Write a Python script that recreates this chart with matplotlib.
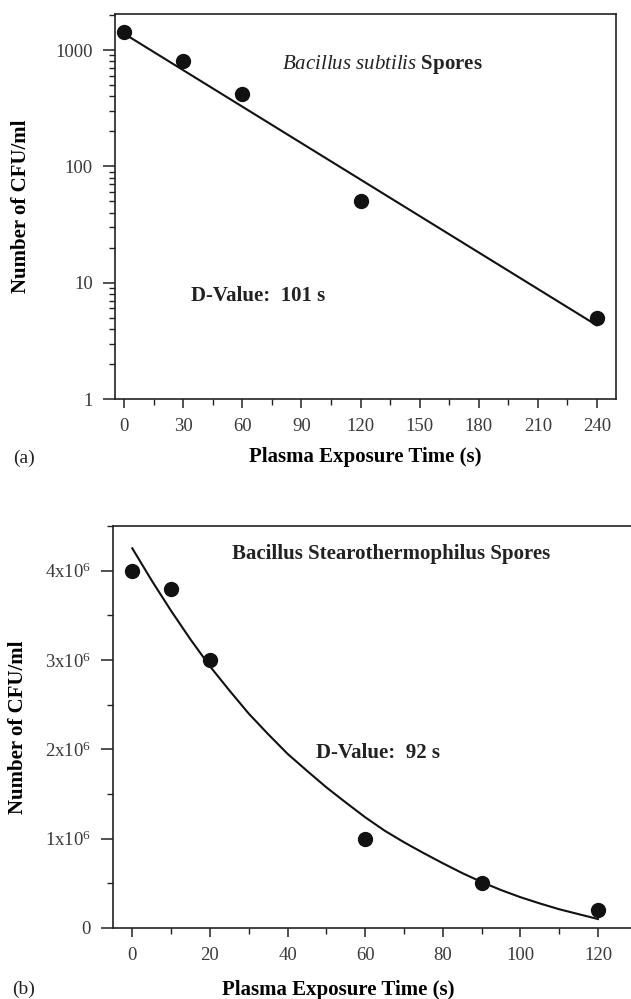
import numpy as np
import matplotlib
matplotlib.use('Agg')
import matplotlib.pyplot as plt
from matplotlib.ticker import LogLocator, NullFormatter, MultipleLocator

plt.rcParams['font.family'] = ['Liberation Serif', 'DejaVu Serif']
plt.rcParams['mathtext.fontset'] = 'custom'
plt.rcParams['mathtext.rm'] = 'Liberation Serif'
plt.rcParams['mathtext.it'] = 'Liberation Serif:italic'
plt.rcParams['mathtext.bf'] = 'Liberation Serif:bold'

# (a) Bacillus subtilis spores, log scale
time_a = [0, 30, 60, 120, 240]
cfu_a = [1420, 800, 420, 50, 5.0]
fit_time_a = [0, 240]
fit_cfu_a = [1380, 4.3]
xticks_a = [0, 30, 60, 90, 120, 150, 180, 210, 240]
yticks_a = [1, 10, 100, 1000]
yticklabels_a = ['1', '10', '100', '1000']

# (b) Bacillus stearothermophilus spores, linear scale
time_b = [0, 10, 20, 60, 90, 120]
cfu_b = [4.0e6, 3.8e6, 3.0e6, 1.0e6, 0.5e6, 0.2e6]
# fitted curve
fit_time_b = [0, 5, 10, 15, 20, 25, 30, 35, 40, 45, 50, 55, 60,
              65, 70, 75, 80, 85, 90, 95, 100, 105, 110, 115, 120]
fit_cfu_b = [4.25e6, 3.89e6, 3.55e6, 3.23e6, 2.93e6, 2.66e6, 2.40e6,
             2.17e6, 1.95e6, 1.76e6, 1.575e6, 1.405e6, 1.24e6, 1.09e6,
             0.96e6, 0.84e6, 0.725e6, 0.615e6, 0.515e6, 0.425e6, 0.345e6,
             0.275e6, 0.21e6, 0.155e6, 0.10e6]
xticks_b = [0, 20, 40, 60, 80, 100, 120]
yticks_b = [0, 1e6, 2e6, 3e6, 4e6]
yticklabels_b = ['0', '1x10$^{6}$', '2x10$^{6}$', '3x10$^{6}$', '4x10$^{6}$']

W, H = 631, 999
fig = plt.figure(figsize=(W / 100, H / 100), dpi=100)

spine_col = '#222222'
tick_col = '#3a3a3a'


def style_axes(ax):
    for s in ax.spines.values():
        s.set_linewidth(1.2)
        s.set_color(spine_col)
    ax.tick_params(which='major', direction='out', length=6.5, width=1.1,
                   color=spine_col, labelsize=13.5, labelcolor=tick_col, pad=7)
    ax.tick_params(which='minor', direction='out', length=4, width=1.0,
                   color=spine_col)
    ax.tick_params(axis='y', which='major', length=9)


# ---- panel (a)
ax1 = fig.add_axes([115 / W, 1 - 399 / H, (616 - 115) / W, (399 - 14.3) / H])
ax1.set_yscale('log')
ax1.plot(fit_time_a, fit_cfu_a, color='#111111', lw=1.5)
ax1.plot(time_a, cfu_a, 'o', color='#111111', ms=10, zorder=3)
ax1.set_xlim(-4.7, 249.75)
ax1.set_ylim(1, 2030)
ax1.set_xticks(xticks_a)
ax1.xaxis.set_minor_locator(MultipleLocator(15))
ax1.set_yticks(yticks_a, labels=yticklabels_a)
ax1.yaxis.set_minor_locator(LogLocator(base=10, subs=np.arange(2, 10)))
ax1.yaxis.set_minor_formatter(NullFormatter())
style_axes(ax1)
ax1.set_xlabel('Plasma Exposure Time (s)', fontsize=15, fontweight='bold')
ax1.set_ylabel('Number of CFU/ml', fontsize=15, fontweight='bold')
ax1.xaxis.set_label_coords(0.499, -0.125)
ax1.yaxis.set_label_coords(-0.168, 0.5)
ax1.text(80, 753, r'$\mathit{Bacillus\ subtilis}$ $\mathbf{Spores}$',
         fontsize=15, va='center', ha='left', color='#222222')
ax1.text(34, 7.7, 'D-Value:  101 s', fontsize=15, fontweight='bold',
         va='center', ha='left', color='#222222')
fig.text(24 / W, 1 - 458 / H, '(a)', fontsize=14, ha='center', va='center',
         color='#222222')

# ---- panel (b)
ax2 = fig.add_axes([112.7 / W, 1 - 928 / H, 1 - 112.7 / W, (928 - 526) / H])
ax2.plot(fit_time_b, fit_cfu_b, color='#111111', lw=1.5)
ax2.plot(time_b, cfu_b, 'o', color='#111111', ms=10, zorder=3)
ax2.set_xlim(-5.05, 128.5)
ax2.set_ylim(0, 4.5e6)
ax2.set_xticks(xticks_b)
ax2.xaxis.set_minor_locator(MultipleLocator(10))
ax2.set_yticks(yticks_b, labels=yticklabels_b)
ax2.yaxis.set_minor_locator(MultipleLocator(0.5e6))
ax2.spines['right'].set_visible(False)
style_axes(ax2)
ax2.set_xlabel('Plasma Exposure Time (s)', fontsize=15, fontweight='bold')
ax2.set_ylabel('Number of CFU/ml', fontsize=15, fontweight='bold')
ax2.xaxis.set_label_coords(0.436, -0.13)
ax2.yaxis.set_label_coords(-0.163, 0.5)
ax2.text(25.7, 4.19e6, 'Bacillus Stearothermophilus Spores', fontsize=15,
         fontweight='bold', va='center', ha='left', color='#222222')
ax2.text(47.3, 1.96e6, 'D-Value:  92 s', fontsize=15, fontweight='bold',
         va='center', ha='left', color='#222222')
fig.text(24 / W, 1 - 989 / H, '(b)', fontsize=14, ha='center', va='center',
         color='#222222')

fig.savefig('out.png', dpi=100)
